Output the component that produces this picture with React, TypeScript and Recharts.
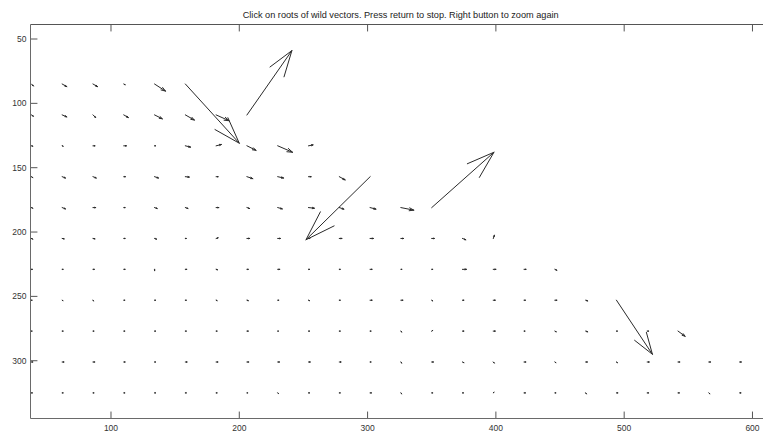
import React from "react";
import { ComposedChart, Line, XAxis, YAxis } from "recharts";

// sampling grid of the vector field
const gridX = [38, 62, 86, 110, 134, 158, 182, 206, 230, 254, 278, 302, 326, 350, 374, 398, 422, 446, 470, 494, 518, 542, 566, 590];
const gridY = [85, 109, 133, 157, 181, 205, 229, 253, 277, 301, 325];

// u / v components, one row per gridY entry (rows get longer going down)
const uValues: number[][] = [
  [1.5, 3.5, 3.5, 1, 8.5, 42],
  [1.5, 3.5, 2, 3.5, 6, 7, 10, 35],
  [1, 0.7, 1.5, 2, 0.7, 4, 4, 7, 11.5, 3.5],
  [1, 2.5, 2.5, 1.2, 3, 3, 1.5, 4.5, 4.5, 2, 4.5, -50],
  [1, 2.5, 2, 1, 2, 2, 2, 2, 3.5, 4.5, 3.5, 4.5, 10, 48.5],
  [1, 1.5, 1.5, 1, 1.5, 0.7, 1.5, 2, 2, 1, 2, 2.5, 2, 2, 2.5, 0.8],
  [0.7, 0.7, 1, 1, 0, 1, 1, 1, 1.5, 0.7, 0.7, 1.5, 0.7, 0.7, 3, 2, 1.5, 1.5],
  [0.5, 0.5, 0.3, 0.7, 0.7, 0.7, 0.7, 1, 0.7, 0.7, 0.7, 1.5, 1.5, 0.7, 1, 1.5, 1, 1.5, 1.5, 28],
  [0.5, 0.7, 0.7, 0.7, 0.7, 0.7, 0.7, 1, 0.5, 0.7, 0.7, 0.7, 0.5, 0.7, 1, 1.5, 0.7, 1, 1.5, 0.7, 1, 5.5],
  [1, 1.3, 1.3, 1, 0.7, 1.3, 1.3, 1.3, 1.3, 1.3, 1.3, 0.7, 0.5, 1.3, 1, 0.7, 1.3, 0.7, 1.3, 0.7, 1.5, 1.3, 1.3, 1.3],
  [0.7, 0.7, 0.7, 0.7, 0.7, 0.7, 0.7, 0.5, 0.5, 0.7, 0.7, 1, 0.5, 0.7, 0.7, 0.5, 1, 0.7, 0.5, 1, 1, 1, 0.7, 1],
];
const vValues: number[][] = [
  [1.5, 2, 2, 0.5, 5.5, 46],
  [1, 1.5, 2, 2, 3, 4, 4.5, -50],
  [0.3, 0.3, 0, 0, 0, 1, -1, 3.5, 5, -0.7],
  [0.7, 1, 1, 0, 1, 0.3, 0, 1.5, 1, 0, 2.5, 49],
  [0.5, 1, 0, 0, 0.7, 0.7, 0, 0.7, 1, 0.5, 1.2, 1.2, 2, -43],
  [0.5, 0.3, 0.3, 0, 0.5, 0, -0.5, 0, 0, 0, 0, 0, 0, 0, 1, -2.5],
  [0, 0, 0, 0, 1, 0, 0.3, 0, 0, 0, 0, 0, 0, 0, 0, 0, 0, 0.7],
  [0, 0.3, 0.5, 0, 0, 0, 0.3, 0.3, 0, 0.3, 0, 0, 0, 0.5, 0, 0, 0, 0, 0.5, 42],
  [0, 0, 0, 0, 0, 0, 0, 0, 0, 0, 0, 0, 0.7, -0.5, 0, 0, 0, 0.5, 0.5, 0, 0, 4],
  [0, 0, 0, 0, 0, 0, 0, 0, 0, 0, 0, 0, 0.8, 0, 0.5, 0.8, 0, 0.5, 0, 0.5, 0, 0, 0, 0],
  [0, 0, 0, 0, 0, 0, 0, 0, 0.5, 0, 0, 0, 0.7, 0, 0, -0.5, 0, 0, 0.7, 0, 0, 0, 0.7, 0],
];

const xTicks = [100, 200, 300, 400, 500, 600];
const yTicks = [50, 100, 150, 200, 250, 300];

const X_DOMAIN: [number, number] = [37.26, 608.2];
const Y_DOMAIN: [number, number] = [38.73, 344.9];
const TICK_LEN = 5.4; // inward tick length, data units

const TITLE = "Click on roots of wild vectors. Press return to stop. Right button to zoom again";

// quiver-style arrowhead proportions
const ALPHA = 0.33;
const BETA = 0.33;

type Pt = { x: number; y: number | null };

// axes box: top edge plus inward ticks on top, bottom and left sides
function buildFrame(): Pt[] {
  const [x0, x1] = X_DOMAIN;
  const [top, bottom] = Y_DOMAIN;
  const pts: Pt[] = [{ x: x0, y: top }, { x: x1, y: top }, { x: x1, y: null }];
  xTicks.forEach((t) => {
    pts.push({ x: t, y: top }, { x: t, y: top + TICK_LEN }, { x: t, y: null });
    pts.push({ x: t, y: bottom }, { x: t, y: bottom - TICK_LEN }, { x: t, y: null });
  });
  yTicks.forEach((t) => {
    pts.push({ x: x0, y: t }, { x: x0 + TICK_LEN, y: t }, { x: x0 + TICK_LEN, y: null });
  });
  return pts;
}

// shafts and heads as one polyline, broken by null gaps
function buildQuiver(): Pt[] {
  const shafts: Pt[] = [];
  const heads: Pt[] = [];
  gridY.forEach((y, r) => {
    uValues[r].forEach((u, c) => {
      const v = vValues[r][c];
      const x = gridX[c];
      const tx = x + u;
      const ty = y + v;
      shafts.push({ x, y }, { x: tx, y: ty }, { x: tx, y: null });
      heads.push(
        { x: tx - ALPHA * (u + BETA * v), y: ty - ALPHA * (v - BETA * u) },
        { x: tx, y: ty },
        { x: tx - ALPHA * (u - BETA * v), y: ty - ALPHA * (v + BETA * u) },
        { x: tx, y: null }
      );
    });
  });
  return [...shafts, ...heads];
}

const frameData = buildFrame();
const quiverData = buildQuiver();

const tickFont = { fontFamily: "Liberation Sans, Arial, sans-serif", fontSize: 8.5, fill: "#333" };
const axisColor = "#6a6a6a";

export default function App() {
  return (
    <div style={{ position: "absolute", left: 0, top: 0, width: 763, height: 432, background: "#fff" }}>
      <ComposedChart width={763} height={432} margin={{ top: 24.5, right: 0, bottom: 0, left: 0 }}>
        <XAxis
          type="number"
          dataKey="x"
          domain={X_DOMAIN}
          ticks={xTicks}
          interval={0}
          height={13.5}
          tickLine={false}
          tickSize={0}
          tickMargin={6.5}
          tick={tickFont}
          stroke={axisColor}
        />
        <YAxis
          type="number"
          domain={Y_DOMAIN}
          reversed
          ticks={yTicks}
          interval={0}
          width={30.5}
          tickLine={false}
          tickSize={0}
          tickMargin={4}
          tick={tickFont}
          stroke={axisColor}
        />
        <Line
          data={frameData}
          dataKey="y"
          stroke="#555"
          strokeWidth={1}
          dot={false}
          activeDot={false}
          connectNulls={false}
          isAnimationActive={false}
        />
        <Line
          data={quiverData}
          dataKey="y"
          stroke="#2a2a2a"
          strokeWidth={1}
          strokeLinecap="square"
          dot={false}
          activeDot={false}
          connectNulls={false}
          isAnimationActive={false}
        />
      </ComposedChart>
      <svg width={763} height={22} style={{ position: "absolute", left: 0, top: 0 }}>
        <text
          x={242.7}
          y={18}
          textLength={316}
          lengthAdjust="spacingAndGlyphs"
          fontFamily="Liberation Sans, Arial, sans-serif"
          fontSize={9.5}
          fill="#222"
        >
          {TITLE}
        </text>
      </svg>
    </div>
  );
}
